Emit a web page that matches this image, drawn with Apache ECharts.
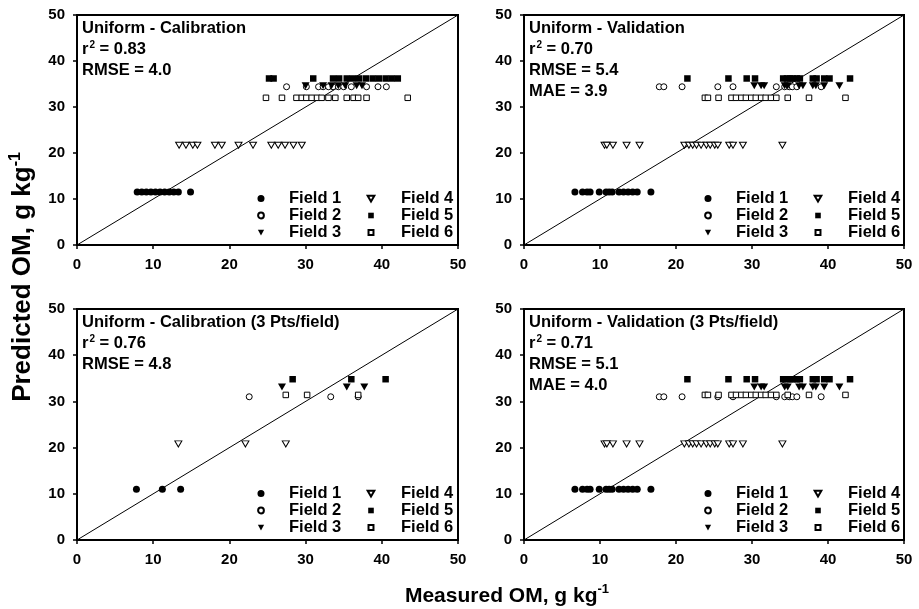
<!DOCTYPE html>
<html>
<head>
<meta charset="utf-8">
<script src="https://cdn.jsdelivr.net/npm/echarts@6/dist/echarts.min.js"></script>
<style>html,body{margin:0;padding:0;background:#fff}#c{width:919px;height:609px}</style>
</head>
<body>
<div id="c"></div>
<script>
// ---------- data ----------
const fieldNames = ['Field 1', 'Field 2', 'Field 3', 'Field 4', 'Field 5', 'Field 6'];
const axisTicks = [0, 10, 20, 30, 40, 50];
const oneToOne = [0, 50];

// predicted OM (uniform per field)
const predCal = [11.5, 34.4, 34.6, 21.7, 36.2, 32.0];      // top panels
const pred3Pts = [11.0, 31.0, 33.1, 20.8, 34.8, 31.4];     // bottom panels

// measured OM - Calibration
const calF1 = [7.9, 8.5, 9.1, 9.7, 10.3, 10.9, 11.5, 12.1, 12.7, 13.3, 14.9];
const calF2 = [27.5, 30.1, 31.7, 32.3, 33.0, 33.6, 34.3, 35.0, 36.0, 38.0, 39.5, 40.6];
const calF3 = [30.0, 32.3, 33.4, 34.3, 35.2, 36.7, 37.4];
const calF4 = [13.4, 14.3, 15.2, 15.8, 18.1, 19.0, 21.2, 23.1, 25.5, 26.4, 27.3, 28.4, 29.5];
const calF5 = [25.2, 25.8, 31.0, 33.6, 34.4, 35.4, 36.2, 37.0, 37.9, 38.8, 39.6, 40.5, 41.3, 42.1];
const calF6 = [24.8, 26.9, 28.8, 29.5, 30.1, 30.8, 31.5, 32.1, 33.0, 33.9, 35.4, 36.3, 36.9, 38.0, 43.4];

// measured OM - Validation
const valF1 = [6.7, 7.7, 8.3, 8.7, 9.9, 10.8, 11.2, 11.6, 12.5, 13.1, 13.7, 14.3, 14.9, 16.7];
const valF2 = [17.8, 18.4, 20.8, 25.5, 27.5, 33.2, 34.3, 34.9, 35.3, 35.9, 39.1];
const valF3 = [30.3, 31.2, 31.6, 34.3, 34.7, 36.2, 36.7, 38.0, 38.4, 39.5, 41.5];
const valF4 = [10.6, 10.9, 11.7, 13.5, 15.2, 21.1, 21.7, 22.2, 22.7, 23.3, 24.0, 24.5, 25.1, 25.5, 27.0, 27.5, 28.8, 34.0];
const valF5 = [21.5, 26.9, 29.3, 30.4, 34.1, 34.6, 35.0, 35.4, 35.9, 36.3, 38.0, 38.5, 39.5, 40.2, 42.9];
const valF6 = [23.8, 24.2, 25.6, 27.3, 27.9, 28.6, 29.2, 29.9, 30.5, 31.2, 31.8, 32.5, 33.2, 34.7, 37.5, 42.3];

// measured OM - Calibration (3 Pts/field)
const cal3F1 = [7.8, 11.2, 13.6];
const cal3F2 = [22.6, 33.3, 36.9];
const cal3F3 = [26.9, 35.4, 37.7];
const cal3F4 = [13.3, 22.1, 27.4];
const cal3F5 = [28.3, 36.0, 40.5];
const cal3F6 = [27.4, 30.2, 36.9];

const panelTitles = ['Uniform - Calibration', 'Uniform - Validation',
                     'Uniform - Calibration (3 Pts/field)', 'Uniform - Validation (3 Pts/field)'];
const panelR2 = ['0.83', '0.70', '0.76', '0.71'];
const panelRMSE = ['4.0', '5.4', '4.8', '5.1'];
const panelMAE = [null, '3.9', null, '4.0'];

// ---------- layout / style ----------
const FONT = '"Liberation Sans", Arial, Helvetica, sans-serif';
const grids = [
  {left: 77, top: 15, width: 381, height: 230},
  {left: 524, top: 15, width: 380, height: 230},
  {left: 77, top: 309, width: 381, height: 231},
  {left: 524, top: 309, width: 380, height: 231}
];
const panelMeas = [
  [calF1, calF2, calF3, calF4, calF5, calF6],
  [valF1, valF2, valF3, valF4, valF5, valF6],
  [cal3F1, cal3F2, cal3F3, cal3F4, cal3F5, cal3F6],
  [valF1, valF2, valF3, valF4, valF5, valF6]
];
const panelPred = [predCal, predCal, pred3Pts, pred3Pts];

const downTri = 'path://M0,0L10,0L5,9Z';
const fieldStyle = [
  {symbol: 'circle', size: 7, fill: '#000', icon: 'path://M0,0M10,10M5,0.6A4.4,4.4,0,1,1,4.99,0.6Z'},
  {symbol: 'circle', size: 6, fill: '#fff', icon: 'path://M0,0M10,10M5,1.4A3.6,3.6,0,1,1,4.99,1.4Z'},
  {symbol: downTri, size: [8, 7], fill: '#000', icon: 'path://M0,0M10,10M1.1,1.5L8.9,1.5L5,8.6Z'},
  {symbol: downTri, size: [7, 6], fill: '#fff', icon: 'path://M0,0M10,10M0.8,1.5L9.2,1.5L5,8.8Z'},
  {symbol: 'rect', size: 6.5, fill: '#000', icon: 'path://M0,0M10,10M1.5,1.5L8.5,1.5L8.5,8.5L1.5,8.5Z'},
  {symbol: 'rect', size: 5.5, fill: '#fff', icon: 'path://M0,0M10,10M1.9,1.9L8.1,1.9L8.1,8.1L1.9,8.1Z'}
];

const xAxes = [], yAxes = [], series = [], titles = [], legends = [];
grids.forEach((g, p) => {
  const common = {
    type: 'value', gridIndex: p, min: axisTicks[0], max: axisTicks[axisTicks.length - 1],
    interval: axisTicks[1] - axisTicks[0],
    axisLine: {show: true, onZero: false, lineStyle: {color: '#000', width: 2}},
    axisTick: {show: true, length: 4, lineStyle: {color: '#000', width: 1.5}},
    axisLabel: {color: '#000', fontSize: 15, fontWeight: 'bold', fontFamily: FONT, margin: 12},
    splitLine: {show: false}
  };
  xAxes.push(Object.assign({}, common));
  yAxes.push(Object.assign({}, common));

  fieldNames.forEach((name, f) => {
    const st = fieldStyle[f];
    series.push({
      type: 'scatter', name: name, xAxisIndex: p, yAxisIndex: p,
      data: panelMeas[p][f].map(x => [x, panelPred[p][f]]),
      symbol: st.symbol, symbolSize: st.size,
      itemStyle: {color: st.fill, borderColor: '#000', borderWidth: st.fill === '#fff' ? 1 : 0, opacity: 1},
      emphasis: {disabled: true}, z: 3
    });
  });
  series.push({
    type: 'line', name: '1:1', xAxisIndex: p, yAxisIndex: p,
    data: oneToOne.map(v => [v, v]), symbol: 'none', silent: true,
    lineStyle: {color: '#000', width: 1}, z: 2
  });

  const lines = ['{t|' + panelTitles[p] + '}', '{t|r}{s|2}{t| = ' + panelR2[p] + '}', '{t|RMSE = ' + panelRMSE[p] + '}'];
  if (panelMAE[p]) lines.push('{t|MAE = ' + panelMAE[p] + '}');
  titles.push({
    left: g.left + 5, top: g.top + 3, padding: 0,
    text: lines.join('\n'),
    textStyle: {
      rich: {
        t: {fontSize: 16.5, fontWeight: 'bold', fontFamily: FONT, color: '#000', lineHeight: 21},
        s: {fontSize: 10, fontWeight: 'bold', fontFamily: FONT, color: '#000', lineHeight: 12, verticalAlign: 'top', padding: [1, 0, 0, 1]}
      }
    }
  });

  [[0, 3, 179, 19], [3, 6, 289, 21]].forEach(([a, b, dx, pad]) => {
    legends.push({
      data: fieldNames.slice(a, b).map((n, k) => ({name: n, icon: fieldStyle[a + k].icon})),
      orient: 'vertical',
      left: g.left + dx, top: g.top + g.height - 55, padding: 0,
      itemWidth: 8, itemHeight: 8, itemGap: 0, selectedMode: false,
      textStyle: {fontSize: 16.5, fontWeight: 'bold', fontFamily: FONT, color: '#000', lineHeight: 16, padding: [0, 0, 0, pad]}
    });
  });
});

const chart = echarts.init(document.getElementById('c'), null, {renderer: 'canvas'});
chart.setOption({
  backgroundColor: '#fff',
  animation: false,
  grid: grids.map(g => Object.assign({show: true, borderColor: '#000', borderWidth: 2, backgroundColor: 'transparent'}, g)),
  xAxis: xAxes,
  yAxis: yAxes,
  title: titles,
  legend: legends,
  series: series,
  graphic: [
    {
      type: 'text', x: 507, y: 596,
      style: {
        text: '{a|Measured OM, g kg}{b|-1}', align: 'center', verticalAlign: 'middle',
        rich: {
          a: {fontSize: 21, fontWeight: 'bold', fontFamily: FONT, fill: '#000', color: '#000', lineHeight: 26},
          b: {fontSize: 13, fontWeight: 'bold', fontFamily: FONT, fill: '#000', color: '#000', lineHeight: 14, verticalAlign: 'top'}
        }
      }
    },
    {
      type: 'text', x: 23, y: 277, rotation: Math.PI / 2,
      style: {
        text: '{a|Predicted OM, g kg}{b|-1}', align: 'center', verticalAlign: 'middle',
        rich: {
          a: {fontSize: 26, fontWeight: 'bold', fontFamily: FONT, fill: '#000', color: '#000', lineHeight: 30},
          b: {fontSize: 16, fontWeight: 'bold', fontFamily: FONT, fill: '#000', color: '#000', lineHeight: 16, verticalAlign: 'top'}
        }
      }
    }
  ]
});
</script>
</body>
</html>
